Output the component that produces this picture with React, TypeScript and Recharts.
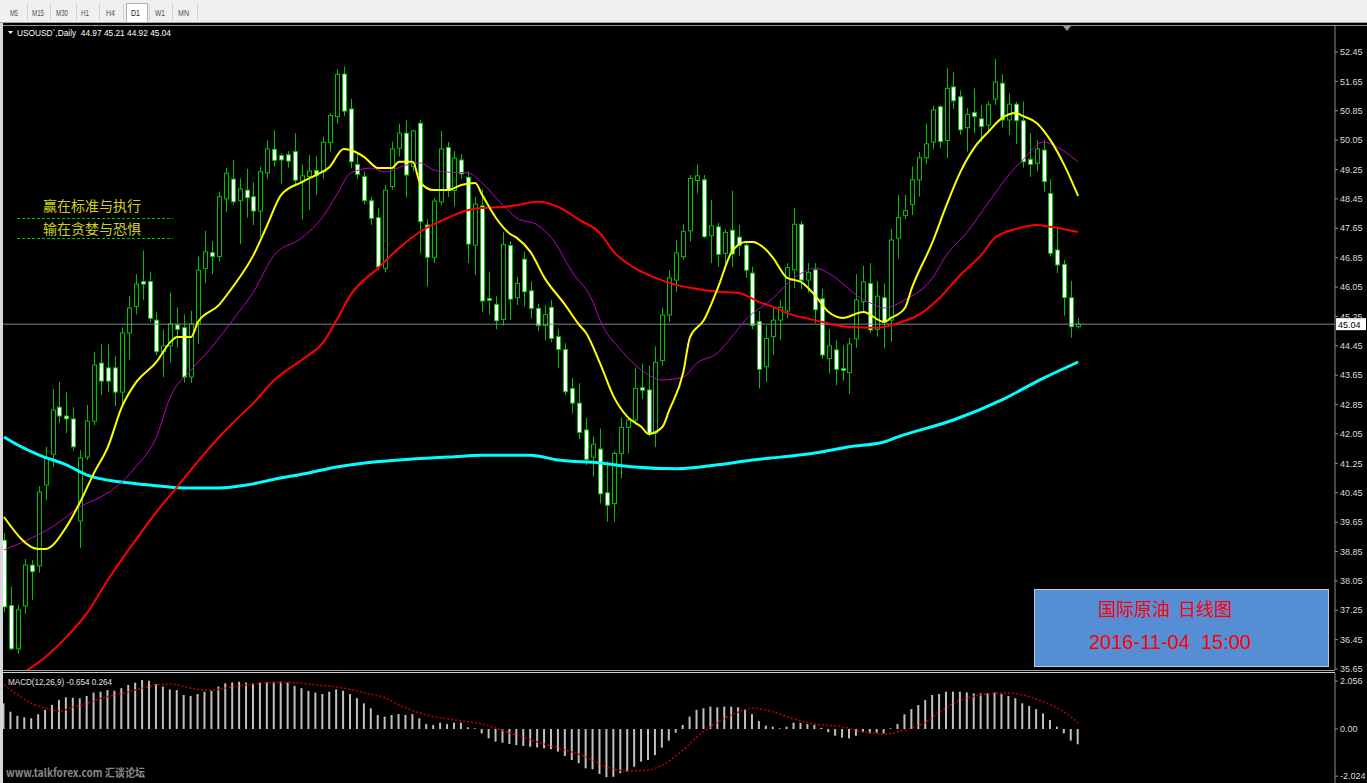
import React from 'react';
import { ComposedChart, Bar, Line, XAxis, YAxis, ReferenceLine } from 'recharts';

// ---------- data ----------
const symbol = 'USOUSD`,Daily';
const timeframes = ['M5', 'M15', 'M30', 'H1', 'H4', 'D1', 'W1', 'MN'];
const activeFrame = 'D1';
const boxTitle = '国际原油  日线图';
const boxTime = '2016-11-04  15:00';
const mottoLines = ['赢在标准与执行', '输在贪婪与恐惧'];
const watermark = 'www.talkforex.com 汇谈论坛';

const opens = [
  39.16, 37.38, 36.20, 37.37, 38.48, 38.46, 40.66, 41.50, 42.78, 42.54,
  42.46, 39.68, 41.42, 42.40, 43.98, 43.85, 43.85, 43.19, 44.80, 45.52,
  46.20, 46.20, 45.15, 44.29, 44.45, 45.02, 44.95, 43.60, 45.05, 46.56,
  46.99, 46.88, 48.45, 48.99, 48.40, 48.69, 48.51, 48.12, 49.16, 49.80,
  49.63, 49.65, 49.74, 48.92, 49.06, 49.22, 49.19, 49.99, 50.69, 51.85,
  50.90, 49.39, 49.06, 48.40, 47.94, 46.56, 48.79, 49.83, 50.24, 49.33,
  50.51, 47.74, 46.86, 48.37, 49.85, 48.68, 49.51, 49.04, 47.19, 48.26,
  45.74, 45.58, 45.17, 47.18, 45.76, 46.81, 45.95, 45.47, 45.00, 45.50,
  44.70, 44.35, 43.29, 42.89, 42.16, 41.42, 41.64, 40.45, 40.16, 41.52,
  42.23, 42.43, 43.31, 43.25, 42.07, 44.05, 45.29, 46.24, 46.88, 47.58,
  48.95, 48.97, 47.45, 47.69, 46.97, 47.60, 47.41, 47.19, 46.43, 45.11,
  43.88, 44.70, 45.15, 45.40, 46.52, 47.76, 46.24, 46.52, 45.73, 44.10,
  44.34, 43.83, 43.72, 44.64, 45.65, 46.15, 44.90, 45.76, 45.15, 47.38,
  48.00, 48.30, 48.97, 49.57, 50.00, 50.96, 50.04, 51.50, 51.23, 50.39,
  50.80, 50.63, 50.46, 51.17, 51.60, 50.60, 51.03, 50.58, 49.53, 49.42,
  49.78, 48.60, 47.06, 46.67, 45.76, 44.97,
];
const highs = [
  39.35, 37.89, 37.40, 38.65, 38.62, 40.63, 41.70, 43.27, 43.47, 43.19,
  42.78, 41.61, 42.84, 44.28, 44.50, 44.50, 44.17, 44.95, 45.81, 46.40,
  47.04, 46.47, 45.37, 44.90, 45.90, 45.50, 45.30, 45.40, 46.88, 47.58,
  47.30, 48.65, 49.30, 49.51, 49.01, 49.27, 48.90, 49.33, 50.05, 50.32,
  49.69, 49.75, 50.24, 49.39, 49.65, 49.62, 50.14, 50.78, 51.98, 52.05,
  51.17, 49.69, 49.20, 48.50, 48.21, 48.83, 50.01, 50.50, 50.60, 50.33,
  50.60, 47.90, 48.47, 50.30, 50.00, 49.75, 49.67, 49.20, 48.50, 48.71,
  46.47, 45.80, 47.54, 47.30, 46.33, 47.01, 46.20, 45.60, 45.55, 45.70,
  44.90, 44.52, 43.57, 43.43, 42.49, 41.98, 42.20, 41.30, 41.57, 42.50,
  42.52, 43.86, 43.97, 43.91, 44.43, 45.48, 46.51, 47.33, 47.76, 49.10,
  49.39, 49.10, 48.42, 47.80, 47.63, 48.67, 47.74, 47.30, 46.60, 45.40,
  45.00, 45.50, 45.70, 46.70, 48.21, 47.85, 46.70, 46.70, 46.00, 44.90,
  44.60, 44.47, 44.66, 46.40, 46.63, 46.70, 46.20, 46.15, 47.63, 48.56,
  48.56, 49.33, 49.73, 50.50, 51.00, 51.00, 52.01, 51.90, 51.40, 50.93,
  51.46, 51.00, 51.10, 52.26, 51.85, 51.32, 51.10, 51.10, 50.24, 50.05,
  50.05, 48.99, 47.63, 46.79, 46.22, 45.21,
];
const lows = [
  37.20, 36.17, 36.06, 37.15, 37.53, 38.27, 40.25, 41.15, 42.35, 42.08,
  41.60, 38.95, 41.34, 42.29, 43.11, 43.19, 42.81, 42.78, 44.06, 45.30,
  45.70, 45.10, 44.20, 43.60, 44.00, 44.40, 43.45, 43.44, 44.50, 46.15,
  46.40, 46.74, 48.09, 48.28, 47.22, 47.94, 47.74, 47.42, 49.00, 49.33,
  48.85, 49.30, 48.80, 47.89, 48.15, 48.56, 49.00, 49.74, 50.50, 50.70,
  49.28, 49.00, 48.30, 47.74, 46.50, 46.45, 48.70, 49.60, 48.49, 49.20,
  46.97, 46.06, 46.70, 48.28, 48.50, 48.24, 49.00, 46.70, 46.38, 45.36,
  45.30, 44.90, 45.00, 45.15, 45.56, 45.52, 45.20, 44.85, 44.61, 44.55,
  43.84, 43.11, 42.61, 41.91, 41.20, 40.89, 40.16, 39.66, 39.66, 40.84,
  41.52, 42.30, 43.00, 41.98, 41.69, 43.91, 45.10, 45.92, 46.80, 47.29,
  48.60, 47.38, 46.70, 46.60, 46.60, 46.60, 46.90, 46.30, 44.90, 43.29,
  43.47, 44.20, 44.60, 45.20, 46.02, 46.00, 45.90, 45.07, 44.10, 43.70,
  43.38, 43.50, 43.14, 44.40, 45.40, 44.80, 44.70, 44.38, 44.56, 46.83,
  47.90, 48.01, 48.51, 49.40, 49.80, 49.83, 49.56, 50.90, 50.20, 49.74,
  50.24, 50.00, 50.30, 51.01, 50.40, 50.19, 49.95, 49.30, 49.05, 49.20,
  48.65, 46.88, 46.43, 45.27, 44.67, 44.92,
];
const closes = [
  37.34, 36.20, 37.26, 38.48, 38.30, 40.47, 41.40, 42.70, 42.54, 42.46,
  41.70, 41.40, 42.40, 43.93, 43.49, 43.49, 43.19, 44.80, 45.48, 46.13,
  46.13, 45.20, 44.29, 44.45, 45.05, 44.90, 43.60, 45.05, 46.51, 47.01,
  46.88, 48.51, 49.15, 48.37, 48.72, 48.48, 48.12, 49.19, 49.81, 49.50,
  49.51, 49.48, 48.96, 49.08, 49.21, 49.08, 49.99, 50.72, 51.84, 50.84,
  49.46, 49.12, 48.40, 47.92, 46.60, 48.69, 49.81, 50.24, 49.10, 50.30,
  47.83, 46.86, 48.39, 49.81, 48.68, 49.56, 49.13, 47.22, 48.31, 45.67,
  45.69, 45.13, 47.21, 45.72, 46.15, 45.92, 45.47, 45.00, 45.30, 44.65,
  44.35, 43.20, 42.89, 42.09, 41.36, 41.77, 40.42, 40.11, 41.52, 42.23,
  42.43, 43.29, 43.24, 42.07, 44.00, 45.29, 46.30, 46.98, 47.56, 49.01,
  49.08, 47.42, 47.72, 46.94, 47.54, 46.95, 47.19, 46.51, 45.00, 43.81,
  44.65, 45.15, 45.50, 46.58, 47.76, 46.24, 46.45, 45.43, 44.20, 44.45,
  43.81, 43.78, 44.50, 45.70, 46.19, 44.88, 45.80, 45.09, 47.33, 47.94,
  48.13, 48.97, 49.57, 49.95, 50.87, 50.01, 51.46, 51.12, 50.33, 50.75,
  50.69, 50.42, 51.01, 51.63, 50.60, 51.03, 50.58, 49.46, 49.39, 49.81,
  48.92, 46.97, 46.65, 45.76, 44.97, 45.04,
];

// moving averages: [candle index, price]
const maYellow = [
  [0, 39.79], [5, 38.92], [6, 38.92], [9, 39.52], [11, 40.20], [13, 40.99], [15, 41.70], [17, 42.78],
  [19, 43.44], [22, 44.01], [24, 44.55], [25, 44.69], [27, 44.69], [28, 45.10], [31, 45.56], [33, 46.05],
  [36, 46.92], [38, 47.74], [40, 48.56], [43, 48.91], [45, 49.10], [47, 49.32], [49, 49.81], [50, 49.78],
  [52, 49.59], [54, 49.29], [56, 49.29], [57, 49.46], [59, 49.46], [60, 48.91], [62, 48.69], [64, 48.69],
  [66, 48.83], [68, 48.88], [69, 48.56], [71, 47.93], [73, 47.50], [74, 47.39], [76, 47.00], [78, 46.30],
  [81, 45.56], [83, 45.02], [84, 44.80], [86, 43.98], [88, 43.06], [90, 42.51], [92, 42.24], [93, 42.05],
  [95, 42.24], [96, 42.70], [98, 43.71], [99, 44.69], [101, 45.15], [103, 46.02], [105, 47.00], [107, 47.28],
  [108, 47.28], [110, 47.06], [111, 46.84], [113, 46.30], [115, 46.19], [117, 45.83], [119, 45.37], [121, 45.21],
  [124, 45.37], [127, 45.10], [128, 45.21], [130, 45.48], [131, 46.02], [134, 47.28], [136, 48.28], [138, 49.18],
  [140, 49.84], [142, 50.27], [144, 50.65], [146, 50.79], [147, 50.71], [149, 50.52], [151, 50.05], [153, 49.37],
  [155, 48.53],
];
const maMagenta = [
  [0, 38.89], [4, 39.22], [7, 39.52], [11, 40.07], [14, 40.34], [16, 40.58], [19, 41.15], [22, 41.97],
  [24, 43.06], [27, 43.79], [30, 44.42], [33, 45.15], [36, 45.92], [39, 46.92], [43, 47.39], [46, 47.96],
  [48, 48.56], [50, 49.15], [53, 49.29], [55, 49.18], [58, 49.37], [60, 49.43], [62, 49.24], [64, 49.18],
  [67, 49.16], [69, 48.88], [72, 48.28], [74, 47.93], [77, 47.74], [79, 47.39], [82, 46.46], [85, 45.64],
  [86, 45.15], [89, 44.34], [92, 43.79], [95, 43.52], [98, 43.60], [100, 43.98], [103, 44.26], [105, 44.69],
  [107, 45.15], [111, 45.75], [114, 46.30], [116, 46.51], [117, 46.57], [120, 46.30], [123, 45.83], [125, 45.62],
  [127, 45.48], [130, 45.70], [134, 46.30], [136, 46.92], [139, 47.55], [142, 48.34], [145, 49.10], [147, 49.51],
  [150, 50.00], [152, 49.86], [155, 49.45],
];
const maRed = [
  [2, 35.46], [6, 35.98], [9, 36.52], [12, 37.18], [15, 38.08], [19, 39.16], [22, 39.93], [25, 40.61],
  [29, 41.53], [33, 42.35], [36, 42.89], [39, 43.52], [43, 44.07], [46, 44.53], [48, 45.15], [50, 45.83],
  [54, 46.57], [57, 47.11], [60, 47.55], [64, 47.93], [67, 48.15], [69, 48.20], [72, 48.23], [74, 48.28],
  [77, 48.37], [80, 48.23], [83, 47.88], [86, 47.52], [88, 47.01], [91, 46.57], [94, 46.30], [97, 46.11],
  [99, 46.03], [103, 45.92], [106, 45.89], [109, 45.64], [111, 45.51], [113, 45.34], [117, 45.15], [122, 44.96],
  [126, 44.94], [129, 45.07], [132, 45.29], [135, 45.75], [138, 46.38], [141, 46.92], [143, 47.39], [146, 47.63],
  [149, 47.74], [151, 47.69], [155, 47.55],
];
const maCyan = [
  [0, 41.97], [2, 41.75], [5, 41.48], [9, 41.21], [12, 40.93], [17, 40.74], [21, 40.66], [26, 40.58],
  [31, 40.58], [35, 40.66], [39, 40.82], [44, 40.99], [48, 41.15], [52, 41.26], [57, 41.34], [64, 41.42],
  [69, 41.47], [76, 41.47], [80, 41.34], [86, 41.26], [91, 41.15], [97, 41.10], [103, 41.21], [108, 41.34],
  [112, 41.42], [117, 41.53], [122, 41.70], [127, 41.83], [129, 41.97], [137, 42.43], [144, 42.98], [150, 43.57],
  [155, 44.01],
];

const macdMain = [
  1.10, 0.74, 0.56, 0.50, 0.46, 0.63, 0.82, 1.03, 1.24, 1.36,
  1.34, 1.32, 1.42, 1.56, 1.60, 1.67, 1.64, 1.75, 1.89, 1.99,
  2.10, 2.07, 1.93, 1.82, 1.70, 1.67, 1.46, 1.42, 1.50, 1.60,
  1.64, 1.82, 1.96, 2.00, 2.03, 1.99, 1.96, 1.99, 2.00, 2.03,
  2.03, 1.99, 1.85, 1.75, 1.63, 1.56, 1.50, 1.60, 1.70, 1.64,
  1.50, 1.32, 1.10, 0.89, 0.60, 0.53, 0.60, 0.64, 0.60, 0.64,
  0.46, 0.21, 0.17, 0.27, 0.21, 0.27, 0.27, 0.07, 0.03, -0.19,
  -0.40, -0.54, -0.59, -0.64, -0.69, -0.73, -0.76, -0.79, -0.83, -0.87,
  -0.97, -1.16, -1.33, -1.47, -1.69, -1.73, -1.93, -2.07, -2.05, -1.90,
  -1.83, -1.62, -1.40, -1.33, -1.12, -0.80, -0.50, -0.16, 0.17, 0.53,
  0.82, 0.89, 0.96, 0.93, 0.96, 0.96, 0.93, 0.85, 0.64, 0.34,
  0.14, 0.10, 0.03, 0.10, 0.27, 0.27, 0.21, 0.18, 0.05, -0.14,
  -0.29, -0.37, -0.40, -0.29, -0.14, -0.19, -0.16, -0.19, 0.03, 0.21,
  0.63, 0.85, 1.03, 1.24, 1.46, 1.50, 1.60, 1.60, 1.60, 1.57,
  1.53, 1.53, 1.53, 1.56, 1.50, 1.42, 1.32, 1.10, 0.99, 0.85,
  0.67, 0.39, 0.10, -0.19, -0.50, -0.654,
];
const macdSignal = [
  [0, 1.89], [2, 1.46], [4, 1.10], [6, 0.89], [8, 0.77], [10, 0.94], [12, 1.10], [14, 1.32],
  [16, 1.46], [18, 1.60], [20, 1.75], [22, 1.89], [24, 1.93], [25, 1.89], [27, 1.75], [29, 1.67],
  [31, 1.70], [33, 1.82], [35, 1.89], [37, 1.96], [39, 2.00], [41, 2.00], [43, 1.96], [45, 1.89],
  [48, 1.80], [50, 1.70], [52, 1.55], [55, 1.33], [57, 1.03], [61, 0.60], [65, 0.39], [69, 0.21],
  [73, -0.17], [77, -0.56], [80, -0.82], [84, -1.20], [87, -1.63], [90, -1.80], [93, -1.76], [95, -1.55],
  [98, -0.90], [100, -0.34], [103, 0.30], [106, 0.73], [108, 0.90], [111, 0.73], [114, 0.43], [117, 0.21],
  [121, 0.09], [124, -0.13], [127, -0.21], [130, -0.04], [133, 0.30], [135, 0.73], [138, 1.24], [141, 1.46],
  [144, 1.55], [147, 1.46], [150, 1.16], [153, 0.73], [155, 0.264],
];

const priceTicks = [52.45, 51.65, 50.85, 50.05, 49.25, 48.45, 47.65, 46.85, 46.05, 45.25, 44.45,
  43.65, 42.85, 42.05, 41.25, 40.45, 39.65, 38.85, 38.05, 37.25, 36.45, 35.65];
const macdTicks = [2.056, 0, -2.024];

const TOTAL_SLOTS = 192;
const GREEN = '#00c000';
const AXIS_FONT = "'Liberation Sans', Arial, sans-serif";

function buildRows() {
  const rows: any[] = [];
  for (let i = 0; i < TOTAL_SLOTS; i++) {
    const has = i < opens.length;
    rows.push({
      i,
      open: has ? opens[i] : null,
      high: has ? highs[i] : null,
      low: has ? lows[i] : null,
      close: has ? closes[i] : null,
      hl: has ? [lows[i], highs[i]] : null,
      macd: has ? macdMain[i] : null,
      yel: null, mag: null, red: null, cyan: null, sig: null,
    });
  }
  const put = (key: string, pts: number[][]) => pts.forEach(([i, v]) => { rows[i][key] = v; });
  put('yel', maYellow);
  put('mag', maMagenta);
  put('red', maRed);
  put('cyan', maCyan);
  put('sig', macdSignal);
  return rows;
}

const Candle = (props: any) => {
  const { x, y, width, height, payload } = props;
  if (!payload || payload.open == null) return null;
  const { open, close, high, low } = payload;
  const top = Math.min(y, y + height);
  const h = Math.abs(height);
  const k = high > low ? h / (high - low) : 0;
  const yO = top + (high - open) * k;
  const yC = top + (high - close) * k;
  const cx = Math.round(x + width / 2) + 0.5;
  const bTop = Math.min(yO, yC);
  const bH = Math.max(1, Math.abs(yC - yO));
  const bull = close >= open;
  return (
    <g>
      <line x1={cx} x2={cx} y1={top} y2={top + h} stroke={GREEN} strokeWidth={1} />
      <rect x={cx - 2} y={bTop} width={4} height={bH} fill={bull ? '#000' : '#fff'} stroke={GREEN} strokeWidth={1} />
    </g>
  );
};

const PriceTag = (props: any) => {
  const vb = props.viewBox;
  if (!vb) return null;
  const x = vb.x + vb.width + 1;
  const y = vb.y;
  return (
    <g>
      <rect x={x} y={y - 6} width={30} height={12} fill="#ffffff" />
      <text x={x + 2} y={y + 3.5} fontSize={9} fill="#000" fontFamily={AXIS_FONT}>
        {closes[closes.length - 1].toFixed(2)}
      </text>
    </g>
  );
};

const tbPos = [
  [10, 8], [32, 12], [56, 12], [81, 8], [106, 9], [131, 9], [155, 10], [178, 11],
];
const tbSeps = [27, 50, 76, 99, 123, 149, 172, 197];

export default function App() {
  const rows = React.useMemo(buildRows, []);
  const last = opens.length - 1;
  const header = `${symbol}  ${opens[last].toFixed(2)} ${highs[last].toFixed(2)} ${lows[last].toFixed(2)} ${closes[last].toFixed(2)}`;
  const sigLast = macdSignal[macdSignal.length - 1][1];
  const macdLabel = `MACD(12,26,9) ${macdMain[last].toFixed(3)} ${sigLast.toFixed(3)}`;

  return (
    <div style={{ position: 'fixed', left: 0, top: 0, width: 1367, height: 783, background: '#000', overflow: 'hidden' }}>
      <div style={{ position: 'absolute', left: 0, top: 672 }}>
        <ComposedChart width={1367} height={111} data={rows} margin={{ top: 1, right: 0, bottom: 0, left: 0.5 }}>
          <XAxis dataKey="i" type="category" hide padding={{ left: 0, right: 3.9 }} />
          <YAxis
            orientation="right"
            width={32}
            domain={[-2.318, 2.403]}
            allowDataOverflow
            ticks={macdTicks}
            interval={0}
            tickFormatter={(v: number) => (v === 0 ? '0.00' : v.toFixed(3))}
            tick={{ fill: '#dcdcdc', fontSize: 9, fontFamily: AXIS_FONT }}
            tickSize={3}
            tickMargin={2}
            axisLine={{ stroke: '#8c8c8c' }}
            tickLine={{ stroke: '#8c8c8c' }}
          />
          <Bar dataKey="macd" barSize={2} fill="#c0c0c0" isAnimationActive={false} />
          <Line dataKey="sig" type="monotone" stroke="#c00000" strokeWidth={1.5} strokeDasharray="2 2" dot={false} activeDot={false} connectNulls isAnimationActive={false} />
        </ComposedChart>
      </div>

      <svg width={1367} height={783} style={{ position: 'absolute', left: 0, top: 0, pointerEvents: 'none' }}>
        {/* separators between panes (stop at the price axis) */}
        <line x1={3} x2={1335} y1={670.5} y2={670.5} stroke="#a0a0a0" />
        <line x1={3} x2={1335} y1={672.5} y2={672.5} stroke="#d0d0d0" />
      </svg>

      <div style={{ position: 'absolute', left: 0, top: 24 }}>
        <ComposedChart width={1367} height={654} data={rows} margin={{ top: 1, right: 0, bottom: 8, left: 0.5 }}
          style={{ overflow: 'visible' }}>
          <XAxis dataKey="i" type="category" hide padding={{ left: 0, right: 3.9 }} />
          <YAxis
            orientation="right"
            width={32}
            domain={[35.624, 53.185]}
            allowDataOverflow
            ticks={priceTicks}
            interval={0}
            tickFormatter={(v: number) => v.toFixed(2)}
            tick={{ fill: '#dcdcdc', fontSize: 9, fontFamily: AXIS_FONT }}
            tickSize={3}
            tickMargin={2}
            axisLine={{ stroke: '#8c8c8c' }}
            tickLine={{ stroke: '#8c8c8c' }}
          />
          <ReferenceLine y={closes[last]} stroke="#7a8898" strokeWidth={1} label={<PriceTag />} />
          <Bar dataKey="hl" barSize={5} shape={<Candle />} isAnimationActive={false} />
          <Line dataKey="cyan" type="monotone" stroke="#00ffff" strokeWidth={3} dot={false} activeDot={false} connectNulls isAnimationActive={false} />
          <Line dataKey="red" type="monotone" stroke="#ff0000" strokeWidth={2} dot={false} activeDot={false} connectNulls isAnimationActive={false} />
          <Line dataKey="mag" type="monotone" stroke="#c000c0" strokeWidth={1} dot={false} activeDot={false} connectNulls isAnimationActive={false} />
          <Line dataKey="yel" type="monotone" stroke="#ffff00" strokeWidth={2} dot={false} activeDot={false} connectNulls isAnimationActive={false} />
        </ComposedChart>
      </div>

      <svg width={1367} height={783} style={{ position: 'absolute', left: 0, top: 0, pointerEvents: 'none' }}>
        {/* toolbar */}
        <rect x={0} y={0} width={1367} height={23} fill="#f0f0f0" />
        <line x1={0} x2={1367} y1={22.5} y2={22.5} stroke="#a0a0a0" />
        <rect x={126.5} y={3.5} width={21} height={19} fill="#ffffff" stroke="#b0b0b0" />
        {tbSeps.map((sx) => (
          <line key={sx} x1={sx + 0.5} x2={sx + 0.5} y1={4} y2={20} stroke="#d0d0d0" />
        ))}
        {timeframes.map((t, k) => (
          <text key={t} x={tbPos[k][0]} y={16} fontSize={8.5} fill={t === activeFrame ? '#202020' : '#505050'}
            fontFamily={AXIS_FONT} textLength={tbPos[k][1]} lengthAdjust="spacingAndGlyphs">{t}</text>
        ))}
        {/* left strip & frame */}
        <rect x={0} y={23} width={3} height={760} fill="#d8d8d8" />
        <line x1={3} x2={1367} y1={25.5} y2={25.5} stroke="#909090" />
        {/* chart shift marker */}
        <polygon points="1063,26 1071,26 1067,31" fill="#8a98aa" />
        {/* header */}
        <polygon points="8,31 13,31 10.5,34" fill="#ffffff" />
        <text x={17} y={36} fontSize={9.5} fill="#ffffff" fontFamily={AXIS_FONT} textLength={154}
          lengthAdjust="spacingAndGlyphs" style={{ whiteSpace: 'pre' }}>{header}</text>
        {/* motto */}
        {mottoLines.map((m, k) => (
          <g key={m}>
            <text x={43} y={211 + k * 23} fontSize={14} fill="#d0d020" fontFamily="'Noto Sans CJK SC', sans-serif">{m}</text>
            <line x1={17} x2={173} y1={218.5 + k * 20} y2={218.5 + k * 20} stroke={GREEN} strokeDasharray="3 2" />
          </g>
        ))}
        {/* info box */}
        <rect x={1034.5} y={589.5} width={294} height={77} fill="#558ed5" stroke="#c8c8c8" />
        <text x={1165} y={616} fontSize={18} fill="#ff0000" textAnchor="middle"
          fontFamily="'Noto Sans CJK SC', sans-serif" style={{ whiteSpace: 'pre' }}>{boxTitle}</text>
        <text x={1170} y={649} fontSize={20} fill="#ff0000" textAnchor="middle"
          fontFamily={AXIS_FONT} style={{ whiteSpace: 'pre' }}>{boxTime}</text>
        {/* MACD label */}
        <text x={8} y={685} fontSize={9.5} fill="#e0e0e0" fontFamily={AXIS_FONT} textLength={104}
          lengthAdjust="spacingAndGlyphs">{macdLabel}</text>
        {/* watermark */}
        <text x={6} y={777} fontSize={11} fill="#8a8a8a" fontWeight="bold"
          fontFamily="'Noto Sans CJK SC', sans-serif" textLength={139} lengthAdjust="spacingAndGlyphs">{watermark}</text>
      </svg>
    </div>
  );
}
